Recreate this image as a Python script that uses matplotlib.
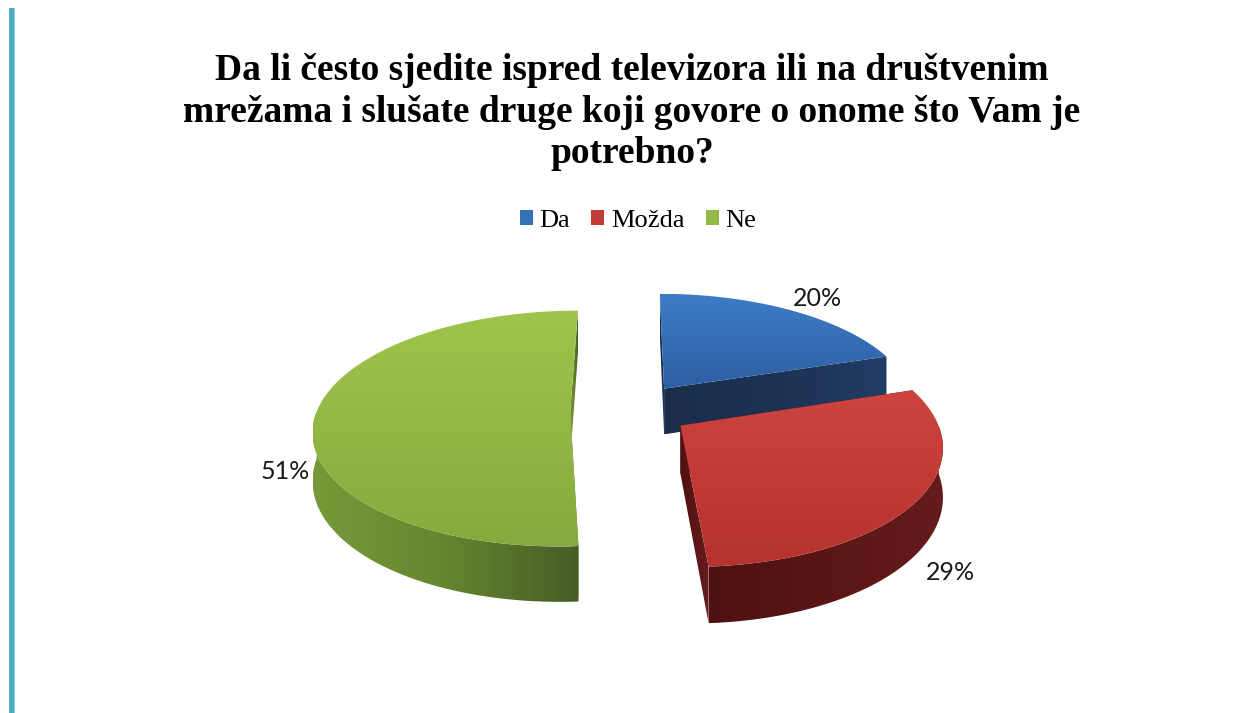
import numpy as np
import matplotlib.pyplot as plt
from matplotlib.patches import Polygon, Patch, Rectangle
from matplotlib.colors import to_rgb

categories = ['Da', 'Možda', 'Ne']
shares = [20, 29, 51]
labels = ['20%', '29%', '51%']

# colours per slice: top face (light, dark), side walls (left, mid, right)
top_colors = [('#3E7CC8', '#2C5FA2'), ('#CD443F', '#B5322E'), ('#A0C54D', '#86AA3D')]
side_colors = [('#1A2D4B', '#1D3354', '#223C64'),
               ('#4E1111', '#5A1616', '#651B1B'),
               ('#779939', '#66852F', '#465C25')]
legend_colors = ['#3570B8', '#C23B37', '#93B944']

title = ('Da li često sjedite ispred televizora ili na društvenim\n'
         'mrežama i slušate druge koji govore o onome što Vam je\n'
         'potrebno?')

# pie geometry in pixels
CX, CY = 630, 410
RX, RY = 253, 115
DEPTH = 47
PERSP = 0.15
EXPLODE = 0.236
LABEL_R = [1.25, 1.12, 1.12]
LABEL_DROP = [0.15, 1.2, 1.2]


def project(X, Z, drop=0.0):
    f = 1.0 / (1.0 + PERSP * np.asarray(Z))
    return CX + RX * f * np.asarray(X), CY - RY * f * np.asarray(Z) + DEPTH * drop * f


def gradient_fill(ax, xs, ys, colors, horizontal=False):
    verts = np.column_stack([xs, ys])
    patch = Polygon(verts, closed=True, facecolor='none', edgecolor='none')
    ax.add_patch(patch)
    stops = [np.array(to_rgb(c)) for c in colors]
    t = np.linspace(0, 1, 256)
    pos = np.linspace(0, 1, len(stops))
    grad = np.stack([np.interp(t, pos, [s[k] for s in stops]) for k in range(3)], axis=-1)
    if horizontal:
        img = grad[np.newaxis, :, :]
    else:
        img = grad[:, np.newaxis, :]
    x0, x1 = xs.min(), xs.max()
    y0, y1 = ys.min(), ys.max()
    im = ax.imshow(img, extent=(x0, x1, y1, y0), origin='upper',
                   aspect='auto', interpolation='bilinear')
    im.set_clip_path(patch)


fig = plt.figure(figsize=(12.37, 7.13), dpi=100)
ax = fig.add_axes([0, 0, 1, 1])
ax.set_xlim(0, 1237)
ax.set_ylim(713, 0)
ax.axis('off')

# left accent bar
ax.add_patch(Rectangle((9, 8), 5, 705, facecolor='#4AACC6', edgecolor='none'))
ax.add_patch(Rectangle((14, 8), 1.2, 705, facecolor='#8ED0E0', edgecolor='none'))

bounds = np.concatenate([[0], np.cumsum(shares)]) / sum(shares) * 360.0

for i in range(len(shares)):
    a0, a1 = np.radians(bounds[i]), np.radians(bounds[i + 1])
    mid = 0.5 * (a0 + a1)
    ox, oz = EXPLODE * np.sin(mid), EXPLODE * np.cos(mid)
    arc = np.linspace(a0, a1, 200)
    ax_, az_ = ox + np.sin(arc), oz + np.cos(arc)

    # radial cut faces
    for a in (a0, a1):
        X = np.array([ox, ox + np.sin(a)])
        Z = np.array([oz, oz + np.cos(a)])
        tx, ty = project(X, Z)
        bx, by = project(X, Z, 1.0)
        xs = np.concatenate([tx, bx[::-1]])
        ys = np.concatenate([ty, by[::-1]])
        gradient_fill(ax, xs, ys, side_colors[i], horizontal=True)

    # outer wall, front half only
    front = np.cos(arc) < 0
    if front.any():
        tx, ty = project(ax_[front], az_[front])
        bx, by = project(ax_[front], az_[front], 1.0)
        xs = np.concatenate([tx, bx[::-1]])
        ys = np.concatenate([ty, by[::-1]])
        gradient_fill(ax, xs, ys, side_colors[i], horizontal=True)

    # top face
    tx, ty = project(np.concatenate([[ox], ax_]), np.concatenate([[oz], az_]))
    gradient_fill(ax, tx, ty, top_colors[i])

    # value label
    lx, ly = project(ox + LABEL_R[i] * np.sin(mid), oz + LABEL_R[i] * np.cos(mid),
                     LABEL_DROP[i])
    ax.text(lx, ly, labels[i], ha='center', va='center', fontsize=18,
            family='Lato', color='#1A1A1A')

ax.set_xlim(0, 1237)
ax.set_ylim(713, 0)

ax.text(632, 112, title, ha='center', va='center', fontsize=27,
        fontweight='bold', family='Liberation Serif', linespacing=1.24)

handles = [Patch(facecolor=c, edgecolor='none', label=n)
           for c, n in zip(legend_colors, categories)]
ax.legend(handles=handles, loc='center', bbox_to_anchor=(638 / 1237, 1 - 221 / 713),
          ncol=3, frameon=False, prop={'family': 'Liberation Serif', 'size': 19},
          handlelength=0.5, handleheight=0.5, handletextpad=0.25,
          columnspacing=0.8, borderaxespad=0)

fig.savefig('out.png', dpi=100, facecolor='white')
